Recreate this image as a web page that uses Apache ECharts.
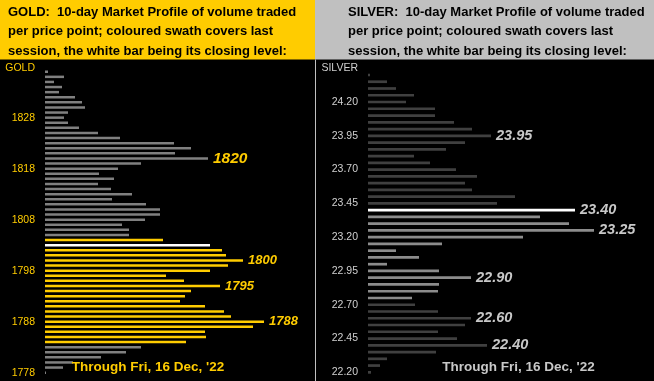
<!DOCTYPE html>
<html>
<head>
<meta charset="utf-8">
<script src="https://cdn.jsdelivr.net/npm/echarts@6/dist/echarts.min.js"></script>
<style>html,body{margin:0;padding:0;background:#000;}#c{width:654px;height:381px;}</style>
</head>
<body>
<div id="c"></div>
<script>
// ---------- DATA ----------
var goldPrices = ['1837','1836','1835','1834','1833','1832','1831','1830','1829','1828',
  '1827','1826','1825','1824','1823','1822','1821','1820','1819','1818',
  '1817','1816','1815','1814','1813','1812','1811','1810','1809','1808',
  '1807','1806','1805','1804','1803','1802','1801','1800','1799','1798',
  '1797','1796','1795','1794','1793','1792','1791','1790','1789','1788',
  '1787','1786','1785','1784','1783','1782','1781','1780','1779','1778'];
var goldVolumes = [3,19,9,17,14,30,37,40,23,19,
  23,34,53,75,129,146,130,163,96,73,
  54,69,53,66,87,67,101,115,115,100,
  77,84,84,118,165,177,181,198,183,165,
  121,139,175,146,140,135,160,179,186,219,
  208,160,161,141,96,81,56,28,18,1];
var goldSwath = ['1784','1804'];   // last session range
var goldClose = '1803';
var goldMarked = ['1820','1800','1795','1788'];
var goldTicks = ['1828','1818','1808','1798','1788','1778'];

var silverPrices = ['24.40','24.35','24.30','24.25','24.20','24.15','24.10','24.05','24.00','23.95',
  '23.90','23.85','23.80','23.75','23.70','23.65','23.60','23.55','23.50','23.45',
  '23.40','23.35','23.30','23.25','23.20','23.15','23.10','23.05','23.00','22.95',
  '22.90','22.85','22.80','22.75','22.70','22.65','22.60','22.55','22.50','22.45',
  '22.40','22.35','22.30','22.25','22.20'];
var silverVolumes = [2,19,28,46,38,67,67,86,104,123,
  97,78,46,62,88,109,97,104,147,129,
  207,172,201,226,155,74,28,51,19,71,
  103,71,70,44,47,70,103,97,70,89,
  119,68,19,12,3];
var silverSwath = ['22.75','23.35'];
var silverClose = '23.40';
var silverMarked = ['23.95','23.40','23.25','22.90','22.60','22.40'];
var silverTicks = ['24.20','23.95','23.70','23.45','23.20','22.95','22.70','22.45','22.20'];

var goldTitle = 'GOLD:  10-day Market Profile of volume traded\nper price point; coloured swath covers last\nsession, the white bar being its closing level:';
var silverTitle = 'SILVER:  10-day Market Profile of volume traded\nper price point; coloured swath covers last\nsession, the white bar being its closing level:';
var footer = 'Through Fri, 16 Dec, \'22';

// ---------- STYLE ----------
var YELLOW = '#FFCC00';
var SANS = '"Liberation Sans",Arial,sans-serif';

function buildData(prices, vols, swath, close, marked, cSwath, cOther, cLabel, bigLabels, labelSize, bigSize) {
  var lo = parseFloat(swath[0]), hi = parseFloat(swath[1]);
  return prices.map(function (p, i) {
    var v = parseFloat(p);
    var col = (p === close) ? '#FFFFFF' : ((v >= lo - 1e-9 && v <= hi + 1e-9) ? cSwath : cOther);
    var item = { value: vols[i], itemStyle: { color: col } };
    if (marked.indexOf(p) >= 0) {
      item.label = {
        show: true, position: 'right', distance: 5, formatter: p,
        color: cLabel, fontFamily: SANS, fontStyle: 'italic', fontWeight: 'bold',
        fontSize: (bigLabels.indexOf(p) >= 0) ? bigSize : labelSize
      };
    }
    return item;
  });
}

var chart = echarts.init(document.getElementById('c'), null, { renderer: 'canvas' });
chart.setOption({
  backgroundColor: '#000',
  animation: false,
  title: [
    { text: goldTitle, left: 8, top: 2.5, padding: 0,
      textStyle: { fontFamily: SANS, fontSize: 13, fontWeight: 'bold', color: '#000', lineHeight: 19.5 } },
    { text: silverTitle, left: 348, top: 2.5, padding: 0,
      textStyle: { fontFamily: SANS, fontSize: 13, fontWeight: 'bold', color: '#000', lineHeight: 19.5 } }
  ],
  graphic: [
    { type: 'rect', z: -10, silent: true, shape: { x: 0, y: 0, width: 315, height: 59.5 }, style: { fill: YELLOW } },
    { type: 'rect', z: -10, silent: true, shape: { x: 315, y: 0, width: 339, height: 59.5 }, style: { fill: '#C0C0C0' } },
    { type: 'line', z: -5, silent: true, shape: { x1: 315.5, y1: 59.5, x2: 315.5, y2: 381 }, style: { stroke: '#C0C0C0', lineWidth: 1 } },
    { type: 'text', silent: true, style: { text: 'GOLD', x: 35, y: 68, textAlign: 'right', textVerticalAlign: 'middle', fill: YELLOW, font: '10.5px ' + SANS } },
    { type: 'text', silent: true, style: { text: 'SILVER', x: 358, y: 68, textAlign: 'right', textVerticalAlign: 'middle', fill: '#D0D0D0', font: '10.5px ' + SANS } },
    { type: 'text', silent: true, z: 100, style: { text: footer, x: 148, y: 367, textAlign: 'center', textVerticalAlign: 'middle', fill: YELLOW, font: 'bold 13.5px ' + SANS } },
    { type: 'text', silent: true, z: 100, style: { text: footer, x: 518.5, y: 367, textAlign: 'center', textVerticalAlign: 'middle', fill: '#C8C8C8', font: 'bold 13.5px ' + SANS } }
  ],
  grid: [
    { left: 45, top: 69.2, width: 270, height: 306 },
    { left: 368, top: 71.6, width: 286, height: 304.1 }
  ],
  xAxis: [
    { gridIndex: 0, type: 'value', min: 0, max: 270, show: false },
    { gridIndex: 1, type: 'value', min: 0, max: 286, show: false }
  ],
  yAxis: [
    { gridIndex: 0, type: 'category', inverse: true, data: goldPrices,
      axisLine: { show: false }, axisTick: { show: false }, splitLine: { show: false },
      axisLabel: { interval: function (i, v) { return goldTicks.indexOf(v) >= 0; },
        color: YELLOW, fontFamily: SANS, fontSize: 10.5, margin: 10 } },
    { gridIndex: 1, type: 'category', inverse: true, data: silverPrices,
      axisLine: { show: false }, axisTick: { show: false }, splitLine: { show: false },
      axisLabel: { interval: function (i, v) { return silverTicks.indexOf(v) >= 0; },
        color: '#D0D0D0', fontFamily: SANS, fontSize: 10.5, margin: 10 } }
  ],
  series: [
    { type: 'bar', xAxisIndex: 0, yAxisIndex: 0, barWidth: 2.5,
      data: buildData(goldPrices, goldVolumes, goldSwath, goldClose, goldMarked, YELLOW, '#808080', YELLOW, ['1820'], 13, 15.5) },
    { type: 'bar', xAxisIndex: 1, yAxisIndex: 1, barWidth: 2.7,
      data: buildData(silverPrices, silverVolumes, silverSwath, silverClose, silverMarked, '#8C8C8C', '#404040', '#C8C8C8', [], 14.5, 14.5) }
  ]
});
</script>
</body>
</html>
